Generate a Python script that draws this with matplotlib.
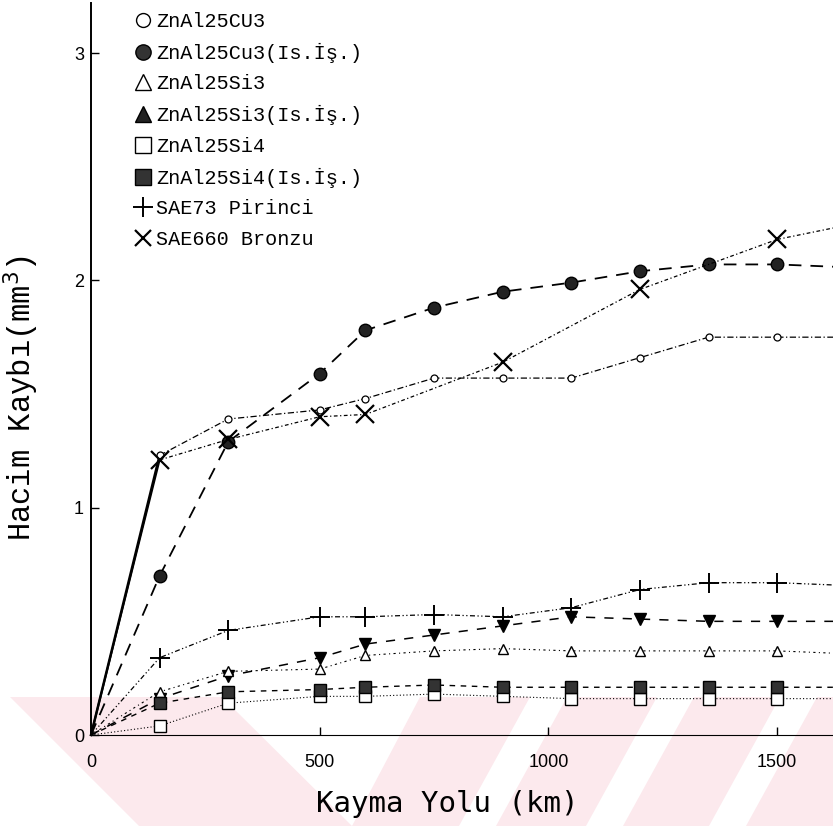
import matplotlib
matplotlib.use("Agg")
from matplotlib import pyplot as plt
from matplotlib.lines import Line2D
from matplotlib.patches import Polygon

plt.rcParams['font.family'] = ['Liberation Mono', 'DejaVu Sans']

# sliding distance (km) and volume loss (mm3); last value = curve at right edge
x_km = [0, 150, 300, 500, 600, 750, 900, 1050, 1200, 1350, 1500, 1622]
cu3 = [0, 1.23, 1.39, 1.43, 1.48, 1.57, 1.57, 1.57, 1.66, 1.75, 1.75, 1.75]
cu3_ht = [0, 0.70, 1.29, 1.59, 1.78, 1.88, 1.95, 1.99, 2.04, 2.07, 2.07, 2.06]
si3 = [0, 0.19, 0.28, 0.29, 0.35, 0.37, 0.38, 0.37, 0.37, 0.37, 0.37, 0.36]
si3_ht = [0, 0.16, 0.26, 0.34, 0.40, 0.44, 0.48, 0.52, 0.51, 0.50, 0.50, 0.50]
si4 = [0, 0.04, 0.14, 0.17, 0.17, 0.18, 0.17, 0.16, 0.16, 0.16, 0.16, 0.16]
si4_ht = [0, 0.14, 0.19, 0.20, 0.21, 0.22, 0.21, 0.21, 0.21, 0.21, 0.21, 0.21]
sae73 = [0, 0.34, 0.46, 0.52, 0.52, 0.53, 0.52, 0.56, 0.64, 0.67, 0.67, 0.66]
x_bronz = [0, 150, 300, 500, 600, 900, 1200, 1500, 1622]
sae660 = [0, 1.21, 1.30, 1.40, 1.41, 1.64, 1.96, 2.18, 2.23]

labels = ['ZnAl25CU3', 'ZnAl25Cu3(Is.İş.)', 'ZnAl25Si3', 'ZnAl25Si3(Is.İş.)',
          'ZnAl25Si4', 'ZnAl25Si4(Is.İş.)', 'SAE73 Pirinci', 'SAE660 Bronzu']

W, H = 833, 826
fig = plt.figure(figsize=(W / 100, H / 100), dpi=100)
ax = fig.add_axes([91 / W, 1 - 735 / H, 742 / W, 732 / H])
ax.set_facecolor('none')

# pink scan watermark band at the bottom (pixel coords from top-left)
pink = '#fce9ed'
def figpoly(pts, color):
    p = Polygon([(x / W, 1 - y / H) for x, y in pts], closed=True,
                transform=fig.transFigure, facecolor=color, edgecolor='none', zorder=-10)
    fig.patches.append(p)

figpoly([(0, 697), (W, 697), (W, H), (0, H)], pink)
figpoly([(0, 697), (10, 697), (139, H), (0, H)], 'white')
figpoly([(222, 697), (420, 697), (352, H)], 'white')
for xt in [530, 657, 780]:
    figpoly([(xt, 697), (xt + 37, 697), (xt - 34, H), (xt - 71, H)], 'white')

n = len(x_km)
mk = list(range(1, n - 1))

# steep solid starts
ax.plot(x_km[:2], cu3[:2], color='black', lw=1.8, clip_on=False)
ax.plot(x_bronz[:2], sae660[:2], color='black', lw=1.4, clip_on=False)

ax.plot(x_km[1:], cu3[1:], color='black', lw=0.9, ls=(0, (5, 2, 1, 2)),
        marker='o', ms=5, mfc='white', mec='black', mew=0.9, markevery=list(range(0, n - 2)))
ax.plot(x_km, cu3_ht, color='black', lw=1.3, ls=(0, (7, 5)),
        marker='o', ms=9, mfc='#222222', mec='black', markevery=mk, clip_on=False)
ax.plot(x_bronz[1:], sae660[1:], color='black', lw=0.9, ls=(0, (3, 2, 1, 2)),
        marker='x', ms=13, mew=1.6, mec='black', markevery=list(range(0, len(x_bronz) - 2)))
ax.plot(x_km, sae73, color='black', lw=0.9, ls=(0, (4, 2, 1, 2, 1, 2)),
        marker='+', ms=14, mew=1.4, mec='black', markevery=mk, clip_on=False)
ax.plot(x_km, si3_ht, color='black', lw=1.1, ls=(0, (6, 6)),
        marker='v', ms=9, mfc='black', mec='black', markevery=mk, clip_on=False)
ax.plot(x_km, si3, color='black', lw=0.8, ls=(0, (2, 3, 1, 3)),
        marker='^', ms=7, mfc='white', mec='black', mew=1.0, markevery=mk, clip_on=False)
ax.plot(x_km, si4, color='black', lw=0.8, ls=(0, (1, 2)),
        marker='s', ms=8, mfc='white', mec='black', mew=1.0, markevery=mk, clip_on=False)
ax.plot(x_km, si4_ht, color='black', lw=1.0, ls=(0, (4, 4)),
        marker='s', ms=9, mfc='#333333', mec='black', markevery=mk, clip_on=False)

ax.set_xlim(0, 1622)
ax.set_ylim(0, 3.22)
ax.set_xticks([0, 500, 1000, 1500])
ax.set_yticks([0, 1, 2, 3])
ax.tick_params(direction='in', length=6, width=1, labelsize=13)
for lab in ax.get_xticklabels() + ax.get_yticklabels():
    lab.set_fontfamily(['Liberation Sans', 'DejaVu Sans'])
ax.tick_params(axis='x', pad=14)
ax.tick_params(axis='y', pad=5)

for s in ['top', 'right']:
    ax.spines[s].set_visible(False)
ax.spines['left'].set_linewidth(1.4)
ax.spines['bottom'].set_linewidth(0.8)
ax.spines['bottom'].set_linestyle((0, (6, 1)))

ax.set_xlabel('Kayma Yolu (km)', fontsize=21, fontfamily=['DejaVu Sans Mono', 'DejaVu Sans'])
ax.xaxis.set_label_coords(0.48, -0.075)
ax.set_ylabel('Hacim Kaybı(mm$^3$)', fontsize=22)
ax.yaxis.set_label_coords(-0.068, 0.46)

handles = [
    Line2D([], [], ls='none', marker='o', ms=10, mfc='white', mec='black', mew=1.0),
    Line2D([], [], ls='none', marker='o', ms=11, mfc='#333333', mec='black'),
    Line2D([], [], ls='none', marker='^', ms=12, mfc='white', mec='black', mew=1.0),
    Line2D([], [], ls='none', marker='^', ms=12, mfc='#222222', mec='black'),
    Line2D([], [], ls='none', marker='s', ms=11, mfc='white', mec='black', mew=1.0),
    Line2D([], [], ls='none', marker='s', ms=11, mfc='#333333', mec='black'),
    Line2D([], [], ls='none', marker='+', ms=15, mew=1.4, mec='black'),
    Line2D([], [], ls='none', marker='x', ms=12, mew=1.6, mec='black'),
]
fig.legend(handles, labels, loc='upper left', bbox_to_anchor=(133 / W, 1 - 12 / H),
           frameon=False, fontsize=14.5, handlelength=1.0, handletextpad=0.15,
           labelspacing=0.58, borderpad=0, borderaxespad=0)

fig.savefig('out.png', dpi=100, facecolor='white')
